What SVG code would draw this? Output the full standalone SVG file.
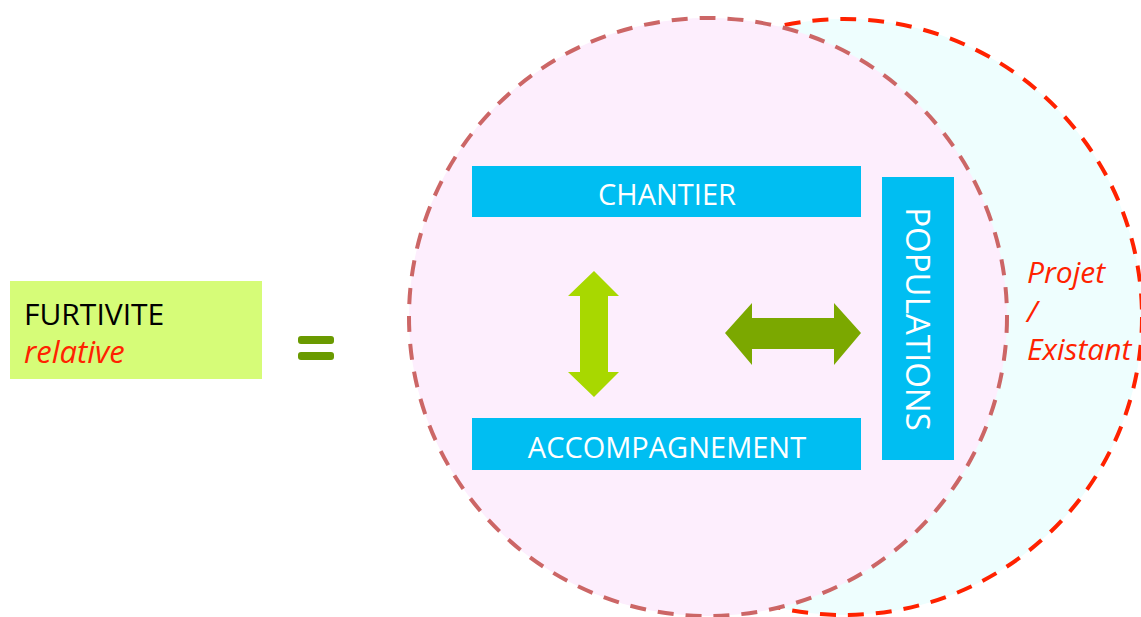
<svg xmlns="http://www.w3.org/2000/svg" width="1141" height="617" viewBox="0 0 1141 617">
<style>
.box{fill:#00BEF2;}
.lbl{font-family:"Open Sans","Liberation Sans",sans-serif;font-size:29px;fill:#FFFFFF;text-anchor:middle;}
.red{font-family:"Open Sans","Liberation Sans",sans-serif;font-size:30px;font-style:italic;fill:#FF2200;}
</style>
<rect width="1141" height="617" fill="#FFFFFF"/>
<g id="circle-projet">
<circle cx="844" cy="317" r="298" fill="#EEFEFE" stroke="#FF2200" stroke-width="4" stroke-dasharray="16,12"/>
</g>
<g id="circle-main">
<circle cx="708" cy="317" r="299" fill="#FDEEFD" stroke="#CC6666" stroke-width="4" stroke-dasharray="16,12"/>
</g>
<g id="furtivite">
<rect x="10" y="281" width="252" height="98" fill="#D6FC78"/>
<text x="24" y="325" font-family="Open Sans, Liberation Sans, sans-serif" font-size="30" fill="#000000">FURTIVITE</text>
<text x="24" y="363" class="red" style="font-size:31px">relative</text>
</g>
<g id="equals" fill="#6A9A00">
<rect x="298" y="336" width="36" height="8" rx="3"/>
<rect x="298" y="352" width="36" height="8" rx="3"/>
</g>
<g id="chantier">
<rect class="box" x="472" y="166" width="389" height="51"/>
<text class="lbl" x="667" y="205">CHANTIER</text>
</g>
<g id="accompagnement">
<rect class="box" x="472" y="418" width="389" height="52"/>
<text class="lbl" x="667" y="458">ACCOMPAGNEMENT</text>
</g>
<g id="populations">
<rect class="box" x="882" y="177" width="72" height="283"/>
<text class="lbl" transform="translate(906,319) rotate(90)" x="0" y="0" style="font-size:33px">POPULATIONS</text>
</g>
<g id="projet">
<text class="red" x="1027" y="283">Projet</text>
<text class="red" x="1027" y="322">/</text>
<text class="red" x="1027" y="360">Existant</text>
</g>
<g id="connectors">
<polygon fill="#A8D800" points="594,271 619,296 608,296 608,372 619,372 594,397 568,372 580,372 580,296 568,296"/>
<polygon fill="#7BA800" points="725,333 752,303 752,318 834,318 834,303 861,333 834,365 834,349 752,349 752,365"/>
</g>
</svg>
